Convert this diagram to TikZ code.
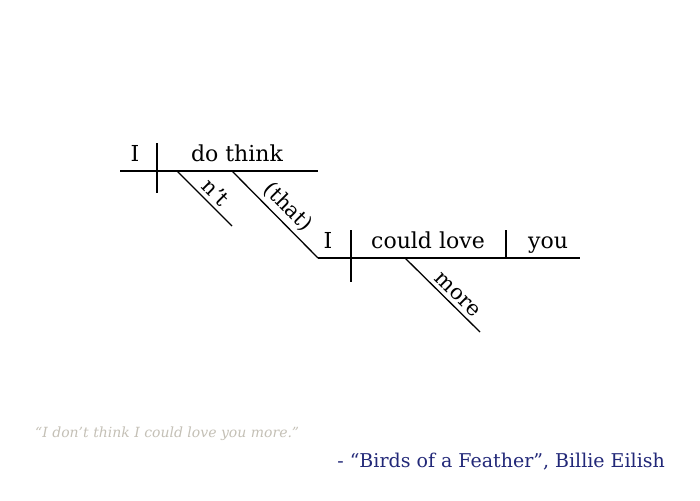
\documentclass[tikz,border=0pt]{standalone}
\usepackage{fontspec}
\setmainfont{DejaVu Serif}
\usetikzlibrary{calc}
\definecolor{quotegray}{RGB}{196,192,182}
\definecolor{songnavy}{RGB}{34,40,120}
\tikzset{
    word/.style = {
        font=\fontsize{22}{26}\selectfont,
        anchor=base,
        inner sep=0pt,
        },
    base line/.style = {
        draw=black,
        line width=1.3pt,
        },
    modifier/.style = {
        font=\fontsize{21}{24}\selectfont,
        sloped, above,
        inner sep=4pt,
        },
}
\begin{document}
\begin{tikzpicture}[x=1pt, y=-1pt]
    \useasboundingbox (0,0) rectangle (700,500);

    % main clause
    \coordinate (main start) at (120,171);
    \coordinate (main end) at (318,171);
    \draw[base line] (main start) -- (main end);
    \draw[base line] (157,143) -- (157,193);
    \node[word] (subj1) at (135,161) {I};
    \node[word] (verb1) at (237,161) {do think};

    % n't
    \coordinate (neg top) at (177,171);
    \coordinate (neg bot) at (232,226);
    \draw[base line] (neg top) -- (neg bot) node[modifier, pos=0.55] (neg) {n’t};

    % (that)
    \coordinate (that top) at (232,171);
    \coordinate (that bot) at (318,258);
    \draw[base line] (that top) -- (that bot) node[modifier, pos=0.53] (that) {(that)};

    % object clause
    \draw[base line] (that bot) -- (580,258) coordinate (sub end);
    \draw[base line] (351,230) -- (351,282);
    \draw[base line] (506,230) -- (506,258);
    \node[word] (subj2) at (328,248) {I};
    \node[word] (verb2) at (428,248) {could love};
    \node[word] (obj2) at (548,248) {you};

    % more
    \coordinate (more top) at (405,258);
    \coordinate (more bot) at (480,332);
    \draw[base line] (more top) -- (more bot) node[modifier, pos=0.6] (more) {more};

    % quote and source
    \node[anchor=base west, text=quotegray, font=\itshape\fontsize{14}{16}\selectfont, inner sep=0pt] (quote) at (35,437) {“I don’t think I could love you more.”};
    \node[anchor=base east, text=songnavy, font=\fontsize{19}{22}\selectfont, inner sep=0pt] (source) at (665,467) {- “Birds of a Feather”, Billie Eilish};
\end{tikzpicture}
\end{document}
